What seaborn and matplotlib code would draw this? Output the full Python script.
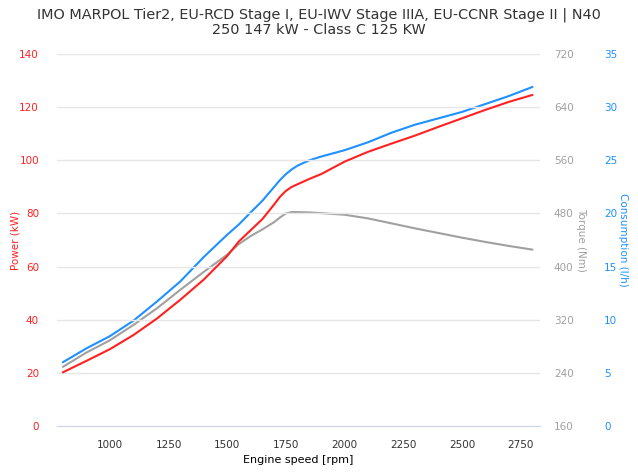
import pandas as pd
import numpy as np
import matplotlib
matplotlib.use("Agg")
import matplotlib.pyplot as plt
import seaborn as sns

# values
rpm = [800, 900, 1000, 1100, 1200, 1300, 1400, 1500, 1550, 1600, 1650, 1700, 1725, 1750,
       1775, 1800, 1850, 1900, 2000, 2100, 2200, 2300, 2400, 2500, 2600, 2700, 2800]
power_kw = [20.2, 24.5, 28.9, 34.2, 40.4, 47.5, 55.1, 64, 69.5, 73.7, 77.9, 83.4, 86.3, 88.5,
            90, 91, 93, 94.8, 99.5, 103.2, 106.3, 109.3, 112.6, 115.8, 119, 122, 124.6]
torque_nm = [249, 270.5, 289, 312, 337, 365, 392, 418, 434, 446, 456, 467, 474, 480,
             482, 482, 481.5, 480.5, 478, 472.5, 465, 457.5, 450.5, 443.5, 437, 431, 425.5]
consumption_lh = [6.0, 7.3, 8.45, 9.9, 11.7, 13.6, 15.9, 18.0, 18.97, 20.1, 21.2, 22.5, 23.15, 23.7,
                  24.15, 24.5, 25.0, 25.35, 25.95, 26.7, 27.6, 28.35, 28.95, 29.55, 30.3, 31.05, 31.9]

x_ticks = [1000, 1250, 1500, 1750, 2000, 2250, 2500, 2750]
power_ticks = [0, 20, 40, 60, 80, 100, 120, 140]
torque_ticks = [160, 240, 320, 400, 480, 560, 640, 720]
cons_ticks = [0, 5, 10, 15, 20, 25, 30, 35]

df = pd.DataFrame({"rpm": rpm, "power": power_kw, "torque": torque_nm, "cons": consumption_lh})

sns.set_style("white")
plt.rcParams['font.family'] = ['DejaVu Sans']

RED = "#ff2020"
GREY = "#a0a0a0"
BLUE = "#1e90ff"

fig = plt.figure(figsize=(6.38, 4.73), dpi=100)
ax = fig.add_axes([57/638, 1-426/473, 483/638, 372/473])
ax2 = ax.twinx()
ax3 = ax.twinx()

sns.lineplot(data=df, x="rpm", y="torque", ax=ax2, color=GREY, linewidth=1.5)
sns.lineplot(data=df, x="rpm", y="power", ax=ax, color=RED, linewidth=1.5)
sns.lineplot(data=df, x="rpm", y="cons", ax=ax3, color=BLUE, linewidth=1.5)
ax.set_zorder(ax2.get_zorder() + 1)
ax.patch.set_visible(False)

ax.set_xlim(775, 2832)
ax.set_ylim(0, 140)
ax2.set_ylim(160, 720)
ax3.set_ylim(0, 35)

ax.set_xticks(x_ticks)
ax.set_yticks(power_ticks)
ax2.set_yticks(torque_ticks)
ax3.set_yticks(cons_ticks)

ax.yaxis.grid(True, color="#e6e6e6", linewidth=1)
ax.xaxis.grid(False)

for a in (ax, ax2, ax3):
    for s in a.spines.values():
        s.set_visible(False)
ax.spines["bottom"].set_visible(True)
ax.spines["bottom"].set_color("#ccd6eb")

ax.tick_params(axis="x", length=7, color="#ccd6eb", labelsize=7.5, labelcolor="#333333", pad=3)
ax.tick_params(axis="y", length=0, labelsize=7.5, labelcolor=RED, pad=13)
ax2.tick_params(axis="y", length=0, labelsize=7.5, labelcolor=GREY, pad=10)
ax3.tick_params(axis="y", length=0, labelsize=7.5, labelcolor=BLUE, pad=46)

ax.set_xlabel("Engine speed [rpm]", fontsize=8, color="#000000")
ax.set_ylabel("Power (kW)", fontsize=7.5, color=RED)
ax.yaxis.set_label_coords(-0.075, 0.5)
ax2.set_ylabel("Torque (Nm)", fontsize=7.5, color=GREY, rotation=270, va="center")
ax2.yaxis.set_label_coords(1.085, 0.5)
ax3.set_ylabel("Consumption (l/h)", fontsize=7.5, color=BLUE, rotation=270, va="center")
ax3.yaxis.set_label_coords(1.172, 0.5)

fig.suptitle("IMO MARPOL Tier2, EU-RCD Stage I, EU-IWV Stage IIIA, EU-CCNR Stage II | N40\n"
             "250 147 kW - Class C 125 KW", fontsize=10.4, color="#333333", y=0.985, linespacing=1.15)

fig.savefig("out.png", dpi=100)
